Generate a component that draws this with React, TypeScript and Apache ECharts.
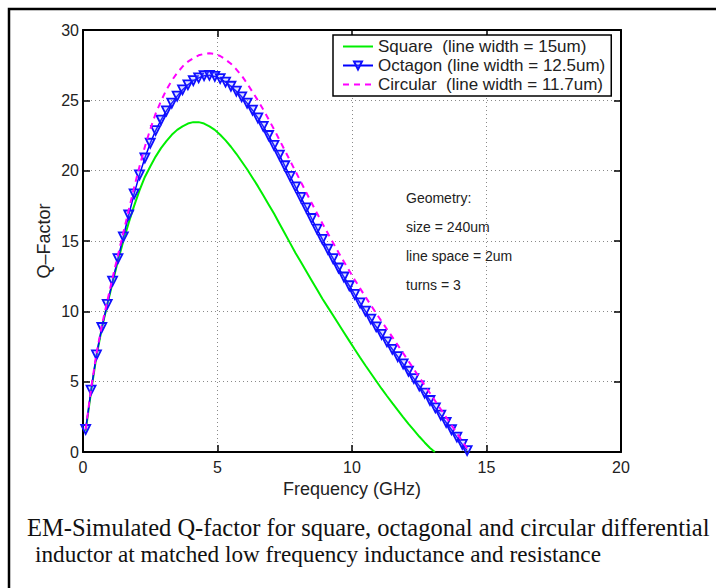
import React, { useEffect, useRef } from "react";
import * as echarts from "echarts";

const seriesNames = [
  "Square\u00a0 (line width = 15um)",
  "Octagon (line width = 12.5um)",
  "Circular\u00a0 (line width = 11.7um)",
];

const squareFreq = [0.1, 0.3, 0.5, 0.7, 0.9, 1.1, 1.3, 1.5, 1.7, 1.9, 2.1, 2.3, 2.5, 2.7, 2.9, 3.1, 3.3, 3.5, 3.7, 3.9, 4.1, 4.3, 4.5, 4.7, 4.9, 5.1, 5.3, 5.5, 5.7, 5.9, 6.1, 6.3, 6.5, 6.7, 6.9, 7.1, 7.3, 7.5, 7.7, 7.9, 8.1, 8.3, 8.5, 8.7, 8.9, 9.1, 9.3, 9.5, 9.7, 9.9, 10.1, 10.3, 10.5, 10.7, 10.9, 11.1, 11.3, 11.5, 11.7, 11.9, 12.1, 12.3, 12.5, 12.7, 12.9, 13.08];
const squareQ = [1.5, 4.3, 6.8, 8.8, 10.45, 12.05, 13.6, 15.0, 16.3, 17.5, 18.6, 19.55, 20.3, 21.0, 21.6, 22.1, 22.55, 22.9, 23.15, 23.35, 23.45, 23.45, 23.35, 23.15, 22.9, 22.55, 22.15, 21.7, 21.2, 20.65, 20.1, 19.5, 18.9, 18.25, 17.6, 16.95, 16.25, 15.55, 14.85, 14.15, 13.5, 12.85, 12.2, 11.55, 10.9, 10.3, 9.7, 9.1, 8.5, 7.9, 7.3, 6.72, 6.15, 5.6, 5.05, 4.5, 3.98, 3.47, 2.97, 2.48, 2.0, 1.55, 1.1, 0.68, 0.28, 0.0];

const octagonFreq = [0.1, 0.3, 0.5, 0.7, 0.9, 1.1, 1.3, 1.5, 1.7, 1.9, 2.1, 2.3, 2.5, 2.7, 2.9, 3.1, 3.3, 3.5, 3.7, 3.9, 4.1, 4.3, 4.5, 4.7, 4.9, 5.1, 5.3, 5.5, 5.7, 5.9, 6.1, 6.3, 6.5, 6.7, 6.9, 7.1, 7.3, 7.5, 7.7, 7.9, 8.1, 8.3, 8.5, 8.7, 8.9, 9.1, 9.3, 9.5, 9.7, 9.9, 10.1, 10.3, 10.5, 10.7, 10.9, 11.1, 11.3, 11.5, 11.7, 11.9, 12.1, 12.3, 12.5, 12.7, 12.9, 13.1, 13.3, 13.5, 13.7, 13.9, 14.1, 14.28];
const octagonQ = [1.6, 4.4, 6.9, 8.85, 10.5, 12.15, 13.75, 15.3, 16.85, 18.35, 19.7, 20.9, 21.95, 22.85, 23.6, 24.25, 24.8, 25.3, 25.75, 26.1, 26.4, 26.6, 26.75, 26.78, 26.7, 26.55, 26.3, 26.0, 25.65, 25.25, 24.8, 24.3, 23.75, 23.15, 22.5, 21.8, 21.1, 20.35, 19.6, 18.85, 18.1, 17.35, 16.6, 15.85, 15.12, 14.42, 13.74, 13.08, 12.44, 11.82, 11.2, 10.6, 10.02, 9.45, 8.9, 8.36, 7.83, 7.3, 6.78, 6.26, 5.74, 5.22, 4.7, 4.18, 3.66, 3.14, 2.62, 2.1, 1.58, 1.06, 0.54, 0.1];

const circularFreq = [0.1, 0.3, 0.5, 0.7, 0.9, 1.1, 1.3, 1.5, 1.7, 1.9, 2.1, 2.3, 2.5, 2.7, 2.9, 3.1, 3.3, 3.5, 3.7, 3.9, 4.1, 4.3, 4.5, 4.7, 4.9, 5.1, 5.3, 5.5, 5.7, 5.9, 6.1, 6.3, 6.5, 6.7, 6.9, 7.1, 7.3, 7.5, 7.7, 7.9, 8.1, 8.3, 8.5, 8.7, 8.9, 9.1, 9.3, 9.5, 9.7, 9.9, 10.1, 10.3, 10.5, 10.7, 10.9, 11.1, 11.3, 11.5, 11.7, 11.9, 12.1, 12.3, 12.5, 12.7, 12.9, 13.1, 13.3, 13.5, 13.7, 13.9, 14.1, 14.3, 14.37];
const circularQ = [1.6, 4.5, 7.0, 9.0, 10.7, 12.4, 14.0, 15.6, 17.2, 18.8, 20.3, 21.7, 22.95, 24.05, 24.95, 25.75, 26.4, 26.95, 27.4, 27.75, 28.0, 28.2, 28.3, 28.35, 28.3, 28.15, 27.9, 27.6, 27.2, 26.75, 26.2, 25.6, 25.0, 24.35, 23.65, 22.95, 22.2, 21.45, 20.7, 19.95, 19.2, 18.45, 17.7, 16.97, 16.25, 15.55, 14.86, 14.18, 13.52, 12.88, 12.25, 11.63, 11.03, 10.44, 9.86, 9.29, 8.73, 8.17, 7.6, 7.03, 6.46, 5.89, 5.32, 4.75, 4.18, 3.61, 3.04, 2.47, 1.9, 1.33, 0.76, 0.19, 0.0];

const yAxisTitle = "Q\u2013Factor";
const xAxisTitle = "Frequency (GHz)";
const annotationLines = ["Geometry:", "size = 240um", "line space = 2um", "turns = 3"];
const captionLines = [
  "EM-Simulated Q-factor for square, octagonal and circular differential",
  "inductor at matched low frequency inductance and resistance",
];

const zip = (xs: number[], ys: number[]) => xs.map((x, i) => [x, ys[i]]);

const SANS = "'Liberation Sans', Arial, Helvetica, sans-serif";
const SERIF = "'Liberation Serif', 'Times New Roman', serif";

export default function App() {
  const ref = useRef<HTMLDivElement>(null);
  useEffect(() => {
    if (!ref.current) return;
    const chart = echarts.init(ref.current, undefined, { renderer: "svg" });
    const tick = { show: true, inside: true, length: 7, lineStyle: { color: "#000", width: 1.5 } };
    const axisLine = { show: true, onZero: false, lineStyle: { color: "#000", width: 2 } };
    const splitLine = { show: true, lineStyle: { color: "#8a8a8a", type: [1, 3] as any, width: 1 } };
    chart.setOption({
      animation: false,
      backgroundColor: "#fff",
      grid: { left: 83, top: 30, width: 538, height: 422, containLabel: false },
      xAxis: [
        {
          type: "value",
          min: 0,
          max: 20,
          interval: 5,
          position: "bottom",
          axisLine,
          axisTick: tick,
          name: xAxisTitle,
          nameLocation: "middle",
          nameGap: 28,
          nameTextStyle: { fontFamily: SANS, fontSize: 18, color: "#222" },
          axisLabel: { fontFamily: SANS, fontSize: 16, color: "#222", margin: 7 },
          splitLine,
        },
        {
          type: "value",
          min: 0,
          max: 20,
          interval: 5,
          position: "top",
          axisLine,
          axisTick: tick,
          axisLabel: { show: false },
          splitLine: { show: false },
        },
      ],
      yAxis: [
        {
          type: "value",
          min: 0,
          max: 30,
          interval: 5,
          position: "left",
          axisLine,
          axisTick: tick,
          axisLabel: { fontFamily: SANS, fontSize: 16, color: "#222", margin: 4 },
          splitLine,
        },
        {
          type: "value",
          min: 0,
          max: 30,
          interval: 5,
          position: "right",
          axisLine,
          axisTick: tick,
          axisLabel: { show: false },
          splitLine: { show: false },
        },
      ],
      legend: {
        orient: "vertical",
        left: 333,
        top: 35,
        padding: [3, 6, 3, 9],
        itemGap: 2,
        itemWidth: 30,
        itemHeight: 10,
        backgroundColor: "#fff",
        borderColor: "#000",
        borderWidth: 1.5,
        borderRadius: 0,
        textStyle: { fontFamily: SANS, fontSize: 17, color: "#222", lineHeight: 17 },
        data: [
          { name: seriesNames[0], itemStyle: { opacity: 0 } },
          { name: seriesNames[1] },
          { name: seriesNames[2], itemStyle: { opacity: 0 } },
        ],
      },
      series: [
        {
          name: seriesNames[0],
          type: "line",
          xAxisIndex: 0,
          yAxisIndex: 0,
          data: zip(squareFreq, squareQ),
          showSymbol: false,
          symbol: "none",
          lineStyle: { color: "#00ee00", width: 2 },
          itemStyle: { color: "#00ee00" },
          z: 2,
        },
        {
          name: seriesNames[1],
          type: "line",
          xAxisIndex: 0,
          yAxisIndex: 0,
          data: zip(octagonFreq, octagonQ),
          symbol: "triangle",
          symbolRotate: 180,
          symbolSize: 9,
          lineStyle: { color: "#0000ff", width: 1.5 },
          itemStyle: { color: "rgba(120,140,255,0.25)", borderColor: "#1010ff", borderWidth: 1.8 },
          z: 3,
        },
        {
          name: seriesNames[2],
          type: "line",
          xAxisIndex: 0,
          yAxisIndex: 0,
          data: zip(circularFreq, circularQ),
          showSymbol: false,
          symbol: "none",
          lineStyle: { color: "#ff00ff", width: 2, type: [6, 5] },
          itemStyle: { color: "#ff00ff" },
          z: 4,
        },
      ],
      graphic: [
        {
          type: "rect",
          shape: { x: 9, y: 9, width: 900, height: 900 },
          style: { fill: "none", stroke: "#000", lineWidth: 2.5 },
          silent: true,
        },
        {
          type: "text",
          x: 44,
          y: 241,
          rotation: Math.PI / 2,
          style: {
            text: yAxisTitle,
            fontFamily: SANS,
            fontSize: 18,
            fill: "#222",
            align: "center",
            verticalAlign: "middle",
          },
        },
        ...annotationLines.map((t, i) => ({
          type: "text",
          x: 406,
          y: 198 + i * 29,
          style: {
            text: t,
            fontFamily: SANS,
            fontSize: 14,
            fill: "#222",
            verticalAlign: "middle",
          },
        })),
        ...captionLines.map((t, i) => ({
          type: "text",
          x: i === 0 ? 27 : 35,
          y: 527 + i * 27,
          style: {
            text: t,
            fontFamily: SERIF,
            fontSize: i === 0 ? 24.5 : 23.2,
            fill: "#111",
            verticalAlign: "middle",
          },
        })),
      ],
    });
    return () => chart.dispose();
  }, []);
  return (
    <div
      ref={ref}
      style={{ position: "absolute", left: 0, top: 0, width: 716, height: 588 }}
    />
  );
}
